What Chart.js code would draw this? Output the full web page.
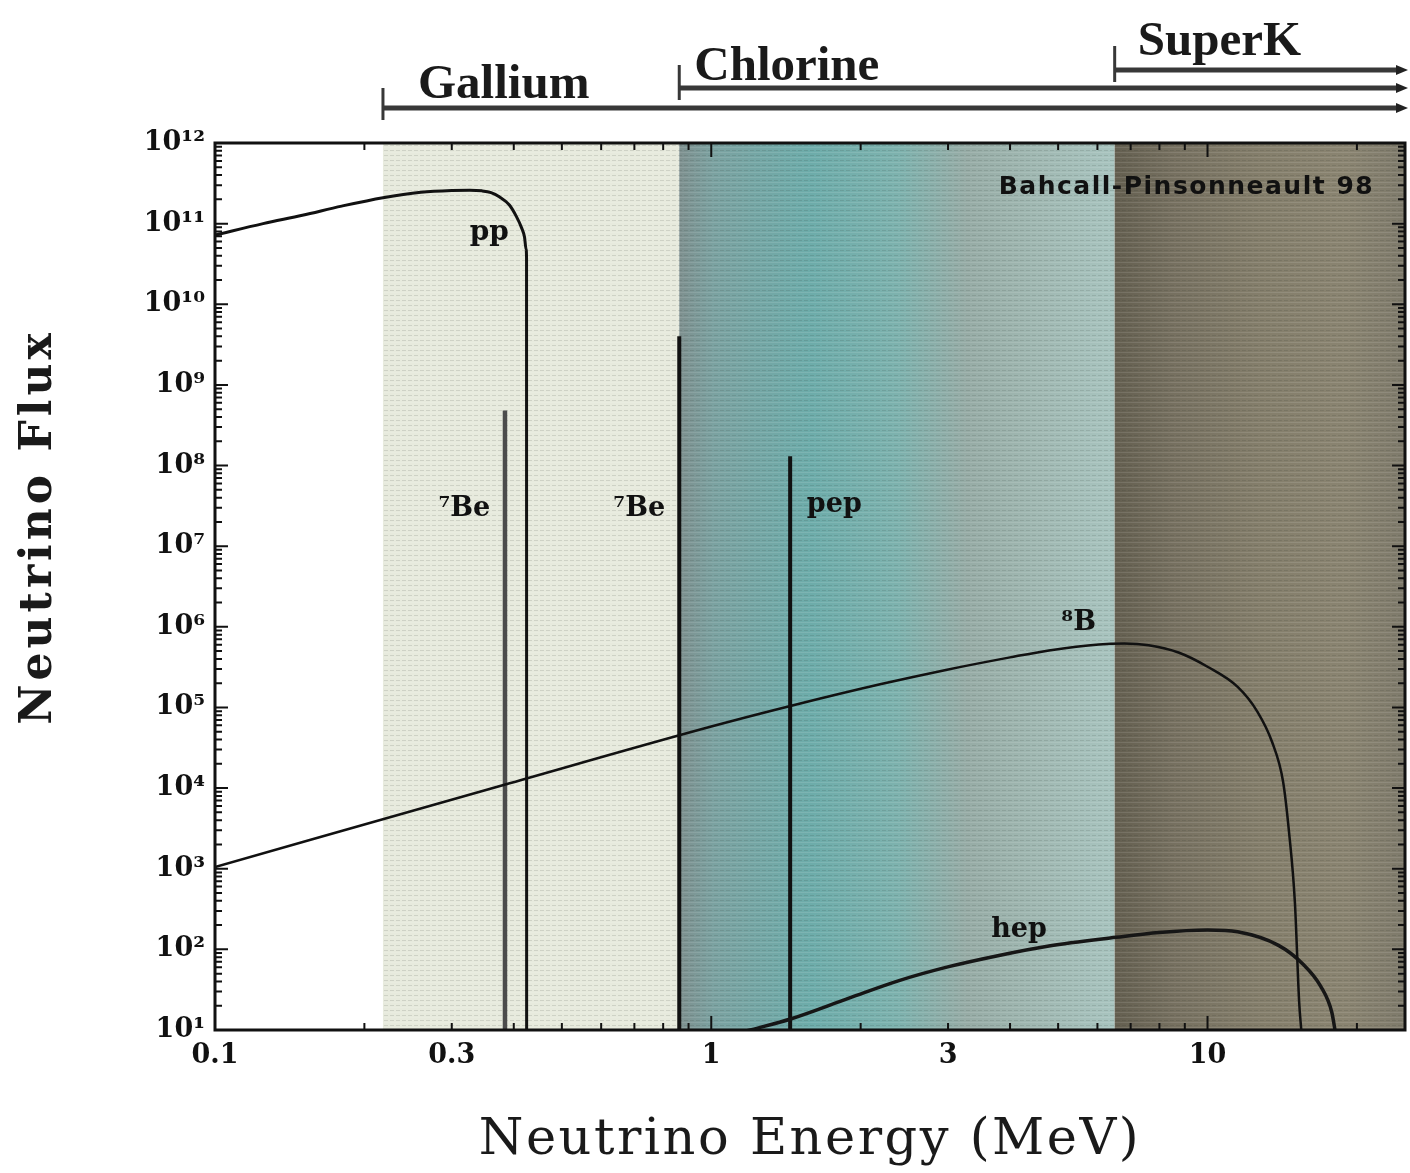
<!DOCTYPE html>
<html>
<head>
<meta charset="utf-8">
<title>Solar neutrino spectrum</title>
<script src="https://cdn.jsdelivr.net/npm/chart.js@4.4.1/dist/chart.umd.min.js"></script>
<style>
  html, body { margin: 0; padding: 0; background: #fff; }
  #wrap { width: 1410px; height: 1173px; position: relative; }
</style>
</head>
<body>
<div id="wrap"><canvas id="flux"></canvas></div>
<script>
"use strict";

// energies in MeV, flux
var ppEnergy = [0.1, 0.125, 0.15, 0.18, 0.218, 0.26, 0.3, 0.326, 0.345, 0.36, 0.374, 0.392, 0.405, 0.415, 0.4205, 0.4235, 0.4244, 0.4246];
var ppFlux = [7.2e10, 1.0e11, 1.27e11, 1.65e11, 2.1e11, 2.45e11, 2.58e11, 2.6e11, 2.55e11, 2.42e11, 2.15e11, 1.7e11, 1.22e11, 8.8e10, 6.8e10, 4.8e10, 3.8e10, 10];

var b8Energy = [0.1, 0.383, 1.0, 1.45, 2.2, 2.97, 4.0, 4.79, 6.04, 6.8, 7.61, 8.74, 10.0, 11.5, 12.6, 13.5, 14.2, 14.6, 15.0, 15.3, 15.45];
var b8Flux = [1.05e3, 1.1e4, 5.8e4, 1.05e5, 1.95e5, 2.92e5, 4.18e5, 5.1e5, 6.05e5, 6.2e5, 5.9e5, 4.8e5, 3.2e5, 1.8e5, 8.9e4, 3.7e4, 1.2e4, 2.8e3, 3.8e2, 22, 10];

var hepEnergy = [1.14, 1.25, 1.45, 1.9, 2.39, 3.01, 3.8, 4.79, 6.54, 7.98, 10.0, 11.5, 13.9, 15.6, 16.9, 17.8, 18.1];
var hepFlux = [9.3, 10.7, 13.8, 25, 41, 61, 84, 110, 141, 162, 174, 165, 112, 65, 35, 16.6, 9.3];

// line sources: 7Be (two branches) and pep
var lineEnergy = [0.384, 0.862, 1.442];
var lineFlux = [4.8e8, 4.0e9, 1.3e8];

// detector thresholds (MeV)
var detectorNames = ["Gallium", "Chlorine", "SuperK"];
var detectorThreshold = [0.218, 0.862, 6.5];

var xTicks = [0.1, 0.3, 1, 3, 10];
var xTickLabels = ["0.1", "0.3", "1", "3", "10"];
var yTicks = [1e1, 1e2, 1e3, 1e4, 1e5, 1e6, 1e7, 1e8, 1e9, 1e10, 1e11, 1e12];
var yTickLabels = ["10\u00b9", "10\u00b2", "10\u00b3", "10\u2074", "10\u2075", "10\u2076", "10\u2077", "10\u2078", "10\u2079", "10\u00b9\u2070", "10\u00b9\u00b9", "10\u00b9\u00b2"];

var FLUX_MIN = 1e1;

function pts(xs, ys) {
  var out = [];
  for (var i = 0; i < xs.length; i++) out.push({x: xs[i], y: ys[i]});
  return out;
}

function spike(i) {
  return [{x: lineEnergy[i], y: lineFlux[i]}, {x: lineEnergy[i], y: FLUX_MIN}];
}

// halftone-ish rows like the scanned original
function rows() {
  var c = document.createElement("canvas");
  c.width = 6; c.height = 5;
  var g = c.getContext("2d");
  g.fillStyle = "rgba(40,50,40,0.13)";
  g.fillRect(0, 0, 4, 1);
  g.fillStyle = "rgba(255,255,255,0.10)";
  g.fillRect(0, 2, 6, 1);
  return c;
}

var backdrop = {
  id: "backdrop",
  beforeDatasetsDraw: function(chart) {
    var ctx = chart.ctx, a = chart.chartArea, xs = chart.scales.x;
    var g0 = xs.getPixelForValue(detectorThreshold[0]);
    var g1 = xs.getPixelForValue(detectorThreshold[1]);
    var g2 = xs.getPixelForValue(detectorThreshold[2]);
    var h = a.bottom - a.top;
    ctx.save();
    ctx.fillStyle = "#e7eadd";
    ctx.fillRect(g0, a.top, g1 - g0, h);

    var cl = ctx.createLinearGradient(g1, 0, g2, 0);
    cl.addColorStop(0, "#7e908f");
    cl.addColorStop(0.08, "#7ba2a1");
    cl.addColorStop(0.3, "#6dacaa");
    cl.addColorStop(0.5, "#7db2ae");
    cl.addColorStop(0.66, "#97aca6");
    cl.addColorStop(0.82, "#a0b8b2");
    cl.addColorStop(1, "#a8c4bf");
    ctx.fillStyle = cl;
    ctx.fillRect(g1, a.top, g2 - g1, h);

    var sk = ctx.createLinearGradient(g2, 0, a.right, 0);
    sk.addColorStop(0, "#645f50");
    sk.addColorStop(0.2, "#767060");
    sk.addColorStop(0.5, "#847e6b");
    sk.addColorStop(0.8, "#8a8471");
    sk.addColorStop(1, "#7e7a6b");
    ctx.fillStyle = sk;
    ctx.fillRect(g2, a.top, a.right - g2, h);

    ctx.fillStyle = ctx.createPattern(rows(), "repeat");
    ctx.fillRect(g0, a.top, a.right - g0, h);
    ctx.restore();
  }
};

var frame = {
  id: "frame",
  afterDatasetsDraw: function(chart) {
    var ctx = chart.ctx, a = chart.chartArea;
    var xs = chart.scales.x, ys = chart.scales.y;
    var p, m, v, q, len;
    ctx.save();
    ctx.strokeStyle = "#111";
    ctx.lineWidth = 2;
    ctx.beginPath();
    for (p = 1; p <= 12; p++) {
      for (m = 1; m < 10; m++) {
        v = m * Math.pow(10, p);
        if (v > ys.max) break;
        q = ys.getPixelForValue(v);
        len = m === 1 ? 13 : 7;
        ctx.moveTo(a.left, q); ctx.lineTo(a.left + len, q);
        ctx.moveTo(a.right, q); ctx.lineTo(a.right - len, q);
      }
    }
    for (p = -1; p <= 1; p++) {
      for (m = 1; m < 10; m++) {
        v = m * Math.pow(10, p);
        if (v > xs.max) break;
        q = xs.getPixelForValue(v);
        len = m === 1 ? 14 : 7;
        ctx.moveTo(q, a.bottom); ctx.lineTo(q, a.bottom - len);
        ctx.moveTo(q, a.top); ctx.lineTo(q, a.top + len);
      }
    }
    ctx.stroke();
    ctx.lineWidth = 3;
    ctx.strokeRect(a.left, a.top, a.right - a.left, a.bottom - a.top);

    // curve names
    var tags = chart.options.plugins.frame.tags;
    ctx.fillStyle = "#111";
    ctx.textAlign = "center";
    ctx.textBaseline = "middle";
    tags.forEach(function(t) {
      ctx.font = t.font;
      ctx.letterSpacing = t.spacing || "0px";
      ctx.fillText(t.text, xs.getPixelForValue(t.x), ys.getPixelForValue(t.y));
    });
    ctx.restore();
  },
  afterDraw: function(chart) {
    var ctx = chart.ctx, xs = chart.scales.x, a = chart.chartArea;
    var o = chart.options.plugins.frame;
    ctx.save();
    // detector ranges above the plot
    o.bars.forEach(function(b, i) {
      var px = xs.getPixelForValue(detectorThreshold[i]);
      var end = chart.width - 2;
      ctx.strokeStyle = "#383838";
      ctx.lineWidth = 5;
      ctx.beginPath();
      ctx.moveTo(px, b.y); ctx.lineTo(end - 8, b.y);
      ctx.stroke();
      ctx.lineWidth = 3;
      ctx.beginPath();
      ctx.moveTo(px, b.tickTop); ctx.lineTo(px, b.tickBottom);
      ctx.stroke();
      ctx.fillStyle = "#222";
      ctx.beginPath();
      ctx.moveTo(end, b.y); ctx.lineTo(end - 12, b.y - 5); ctx.lineTo(end - 12, b.y + 5);
      ctx.closePath(); ctx.fill();
      ctx.fillStyle = "#1a1a1a";
      ctx.font = 'bold 49px "Liberation Serif"';
      ctx.textAlign = "left";
      ctx.textBaseline = "alphabetic";
      ctx.fillText(detectorNames[i], px + b.dx, b.textY);
    });

    // axis titles
    ctx.fillStyle = "#1a1a1a";
    ctx.textAlign = "center";
    ctx.textBaseline = "middle";
    ctx.font = '51px "DejaVu Serif"';
    ctx.letterSpacing = "2.5px";
    ctx.fillText("Neutrino Energy (MeV)", (a.left + a.right) / 2, 1141);
    ctx.translate(40, 527);
    ctx.rotate(-Math.PI / 2);
    ctx.font = 'bold 44px "DejaVu Serif"';
    ctx.letterSpacing = "4px";
    ctx.fillText("Neutrino Flux", 0, 0);
    ctx.restore();
  }
};

var tickFont = {family: "DejaVu Serif", size: 27, weight: "bold"};

var ctx = document.getElementById("flux").getContext("2d");
var chart = new Chart(ctx, {
  type: "line",
  data: {
    datasets: [
      {label: "pp", data: pts(ppEnergy, ppFlux), borderColor: "#111", borderWidth: 3},
      {label: "8B", data: pts(b8Energy, b8Flux), borderColor: "#111", borderWidth: 2.5},
      {label: "hep", data: pts(hepEnergy, hepFlux), borderColor: "#161616", borderWidth: 3.5},
      {label: "7Be 0.38", data: spike(0), borderColor: "#4c4c4c", borderWidth: 4.5},
      {label: "7Be 0.86", data: spike(1), borderColor: "#111", borderWidth: 4},
      {label: "pep", data: spike(2), borderColor: "#111", borderWidth: 4}
    ]
  },
  options: {
    responsive: true,
    maintainAspectRatio: false,
    animation: false,
    layout: {padding: {left: 0, right: 5, top: 143, bottom: 0}},
    elements: {
      point: {radius: 0, hoverRadius: 0},
      line: {cubicInterpolationMode: "monotone", borderJoinStyle: "round", fill: false}
    },
    scales: {
      x: {
        type: "logarithmic",
        min: 0.1,
        max: 25,
        grid: {display: false, drawTicks: false},
        border: {display: false},
        afterBuildTicks: function(s) {
          s.ticks = xTicks.map(function(v) { return {value: v}; });
        },
        afterFit: function(s) { s.height = 143; },
        ticks: {
          padding: 10,
          color: "#111",
          font: tickFont,
          maxRotation: 0,
          callback: function(v) {
            var i = xTicks.indexOf(v);
            return i < 0 ? "" : xTickLabels[i];
          }
        }
      },
      y: {
        type: "logarithmic",
        min: FLUX_MIN,
        max: 1e12,
        grid: {display: false, drawTicks: false},
        border: {display: false},
        afterBuildTicks: function(s) {
          s.ticks = yTicks.map(function(v) { return {value: v}; });
        },
        afterFit: function(s) { s.width = 215; },
        ticks: {
          padding: 10,
          color: "#111",
          font: tickFont,
          callback: function(v) {
            var i = yTicks.indexOf(v);
            return i < 0 ? "" : yTickLabels[i];
          }
        }
      }
    },
    plugins: {
      legend: {display: false},
      tooltip: {enabled: false},
      frame: {
        tags: [
          {text: "pp", x: 0.357, y: 7.7e10, font: 'bold 28px "DejaVu Serif"'},
          {text: "\u2077Be", x: 0.318, y: 2.9e7, font: 'bold 27px "DejaVu Serif"'},
          {text: "\u2077Be", x: 0.716, y: 2.9e7, font: 'bold 27px "DejaVu Serif"'},
          {text: "pep", x: 1.77, y: 3.2e7, font: 'bold 27px "DejaVu Serif"'},
          {text: "\u2078B", x: 5.5, y: 1.1e6, font: 'bold 27px "DejaVu Serif"'},
          {text: "hep", x: 4.17, y: 174, font: 'bold 27px "DejaVu Serif"'},
          {text: "Bahcall-Pinsonneault 98", x: 9.07, y: 2.8e11, font: 'bold 25px "DejaVu Sans"', spacing: "1.5px"}
        ],
        bars: [
          {y: 108, tickTop: 88, tickBottom: 120, dx: 35, textY: 98},
          {y: 88, tickTop: 65, tickBottom: 100, dx: 15, textY: 80},
          {y: 70, tickTop: 46, tickBottom: 82, dx: 23, textY: 55}
        ]
      }
    }
  },
  plugins: [backdrop, frame]
});
</script>
</body>
</html>
